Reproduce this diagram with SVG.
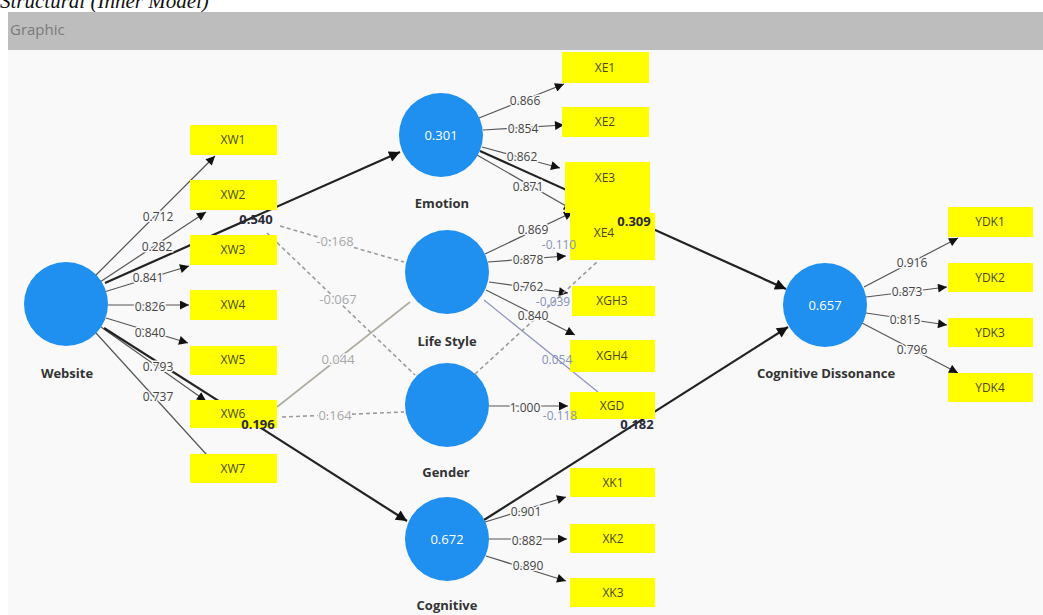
<svg xmlns="http://www.w3.org/2000/svg" width="1043" height="615" viewBox="0 0 1043 615">
<style>
.lv{fill:#1f8ff0}
.ind{fill:#ffff00}
.il{font-family:"Open Sans","Noto Sans",sans-serif;font-size:12px;fill:#4a4a2a;text-anchor:middle}
.nl{font-family:"Open Sans","Noto Sans",sans-serif;font-size:13px;font-weight:bold;fill:#333;text-anchor:middle}
.cv{font-family:"Open Sans","Noto Sans",sans-serif;font-size:13px;fill:#fff;text-anchor:middle}
.ld{stroke:#555;stroke-width:1.2;fill:none}
.st{stroke:#222;stroke-width:2.2;fill:none}
.ds{stroke:#9c9c9c;stroke-width:1.6;stroke-dasharray:4 3;fill:none}
.lt{stroke:#b0aca0;stroke-width:1.6;fill:none}
.bl{stroke:#8e94c0;stroke-width:1.2;fill:none}
.t{font-family:"Open Sans","Noto Sans",sans-serif;font-size:12px;fill:#444;text-anchor:middle;paint-order:stroke;stroke:#f9f9f9;stroke-width:3px}
.tb{font-family:"Open Sans","Noto Sans",sans-serif;font-size:13px;font-weight:bold;fill:#2a2a3a;text-anchor:middle}
.tg{font-family:"Open Sans","Noto Sans",sans-serif;font-size:13px;fill:#a8a8a8;text-anchor:middle;paint-order:stroke;stroke:#f9f9f9;stroke-width:3px}
.tq{font-family:"Open Sans","Noto Sans",sans-serif;font-size:12px;fill:#8791c0;text-anchor:middle}
</style>
<defs>
<marker id="a" viewBox="0 0 10 10" refX="10" refY="5" markerWidth="10" markerHeight="9" markerUnits="userSpaceOnUse" orient="auto"><path d="M0,0 L10,5 L0,10 z" fill="#111"/></marker>
<marker id="A" viewBox="0 0 10 10" refX="10" refY="5" markerWidth="13" markerHeight="11" markerUnits="userSpaceOnUse" orient="auto"><path d="M0,0 L10,5 L0,10 z" fill="#111"/></marker>
</defs>
<rect width="1043" height="615" fill="#ffffff"/>
<text x="0" y="8" font-family="Liberation Serif,serif" font-style="italic" font-size="21" fill="#111">Structural (Inner Model)</text>
<rect x="8" y="12" width="1035" height="38" fill="#bdbdbd"/>
<text x="10" y="35" font-family="Open Sans,Noto Sans,sans-serif" font-size="15" fill="#7a7a7a">Graphic</text>
<rect x="8" y="50" width="1035" height="565" fill="#f9f9f9"/>

<g id="connectors">
<line class="ld" x1="96" y1="275" x2="215" y2="156" marker-end="url(#a)"/>
<line class="ld" x1="100" y1="282" x2="206" y2="212" marker-end="url(#a)"/>
<line class="ld" x1="104" y1="292" x2="189" y2="266" marker-end="url(#a)"/>
<line class="ld" x1="108" y1="305" x2="189" y2="305" marker-end="url(#a)"/>
<line class="ld" x1="106" y1="318" x2="188" y2="343" marker-end="url(#a)"/>
<line class="ld" x1="101" y1="327" x2="206" y2="401" marker-end="url(#a)"/>
<line class="ld" x1="96" y1="333" x2="216" y2="465" marker-end="url(#a)"/>
<line class="ld" x1="479" y1="118" x2="564" y2="84" marker-end="url(#a)"/>
<line class="ld" x1="483" y1="130" x2="564" y2="125" marker-end="url(#a)"/>
<line class="ld" x1="482" y1="147" x2="560" y2="168" marker-end="url(#a)"/>
<line class="ld" x1="477" y1="155" x2="573" y2="210" marker-end="url(#a)"/>
<line class="ld" x1="485" y1="254" x2="573" y2="212" marker-end="url(#a)"/>
<line class="ld" x1="488" y1="262" x2="566" y2="256" marker-end="url(#a)"/>
<line class="ld" x1="489" y1="282" x2="568" y2="293" marker-end="url(#a)"/>
<line class="ld" x1="486" y1="290" x2="575" y2="335" marker-end="url(#a)"/>
<line class="bl" x1="484" y1="300" x2="598" y2="392"/>
<line class="ld" x1="489" y1="406" x2="568" y2="406" marker-end="url(#a)"/>
<line class="ld" x1="485" y1="522" x2="566" y2="497" marker-end="url(#a)"/>
<line class="ld" x1="489" y1="539" x2="567" y2="539" marker-end="url(#a)"/>
<line class="ld" x1="486" y1="556" x2="566" y2="581" marker-end="url(#a)"/>
<line class="ld" x1="864" y1="287" x2="958" y2="238" marker-end="url(#a)"/>
<line class="ld" x1="866" y1="297" x2="947" y2="287" marker-end="url(#a)"/>
<line class="ld" x1="866" y1="313" x2="947" y2="325" marker-end="url(#a)"/>
<line class="ld" x1="862" y1="323" x2="958" y2="373" marker-end="url(#a)"/>
<line class="ds" x1="280" y1="226" x2="404" y2="262"/>
<line class="ds" x1="267" y1="233" x2="415" y2="375"/>
<line class="lt" x1="277" y1="407" x2="410" y2="302"/>
<line class="ds" x1="282" y1="417" x2="404" y2="412"/>
<line class="ds" x1="475" y1="374" x2="597" y2="262"/>
<line class="st" x1="105" y1="283" x2="400" y2="152" marker-end="url(#A)"/>
<line class="st" x1="104" y1="328" x2="407" y2="521" marker-end="url(#A)"/>
<line class="st" x1="480" y1="151" x2="786" y2="289" marker-end="url(#A)"/>
<line class="st" x1="484" y1="520" x2="788" y2="327" marker-end="url(#A)"/>
</g>

<g id="website"><circle class="lv" cx="66" cy="304" r="42"/><text class="nl" x="67" y="378">Website</text></g>
<g id="emotion"><circle class="lv" cx="441" cy="135" r="42"/><text class="cv" x="441" y="140">0.301</text><text class="nl" x="442" y="208">Emotion</text></g>
<g id="lifestyle"><circle class="lv" cx="447" cy="272" r="42"/><text class="nl" x="447" y="346">Life Style</text></g>
<g id="gender"><circle class="lv" cx="447" cy="405" r="42"/><text class="nl" x="446" y="477">Gender</text></g>
<g id="cognitive"><circle class="lv" cx="447" cy="539" r="42"/><text class="cv" x="447" y="544">0.672</text><text class="nl" x="447" y="610">Cognitive</text></g>
<g id="cogdis"><circle class="lv" cx="825" cy="305" r="42"/><text class="cv" x="825" y="310">0.657</text><text class="nl" x="826" y="378">Cognitive Dissonance</text></g>

<g id="xw1"><rect class="ind" x="190" y="125" width="87" height="30"/><text class="il" x="233" y="144">XW1</text></g>
<g id="xw2"><rect class="ind" x="190" y="180" width="87" height="30"/><text class="il" x="233" y="199">XW2</text></g>
<g id="xw3"><rect class="ind" x="190" y="235" width="87" height="30"/><text class="il" x="233" y="254">XW3</text></g>
<g id="xw4"><rect class="ind" x="190" y="290" width="87" height="30"/><text class="il" x="233" y="309">XW4</text></g>
<g id="xw5"><rect class="ind" x="190" y="346" width="87" height="29"/><text class="il" x="233" y="364">XW5</text></g>
<g id="xw6"><rect class="ind" x="190" y="400" width="87" height="28"/><text class="il" x="233" y="418">XW6</text></g>
<g id="xw7"><rect class="ind" x="190" y="454" width="87" height="29"/><text class="il" x="233" y="473">XW7</text></g>
<g id="xe1"><rect class="ind" x="562" y="52" width="87" height="31"/><text class="il" x="605" y="72">XE1</text></g>
<g id="xe2"><rect class="ind" x="562" y="107" width="87" height="30"/><text class="il" x="605" y="126">XE2</text></g>
<g id="xe3"><rect class="ind" x="565" y="162" width="85" height="51"/><text class="il" x="605" y="182">XE3</text></g>
<g id="xe4"><rect class="ind" x="570" y="213" width="85" height="47"/><text class="il" x="604" y="237">XE4</text></g>
<g id="xgh3"><rect class="ind" x="572" y="286" width="83" height="30"/><text class="il" x="612" y="305">XGH3</text></g>
<g id="xgh4"><rect class="ind" x="570" y="340" width="85" height="32"/><text class="il" x="612" y="360">XGH4</text></g>
<g id="xgd"><rect class="ind" x="570" y="392" width="85" height="27"/><text class="il" x="612" y="410">XGD</text></g>
<g id="xk1"><rect class="ind" x="570" y="468" width="85" height="29"/><text class="il" x="613" y="487">XK1</text></g>
<g id="xk2"><rect class="ind" x="570" y="524" width="85" height="29"/><text class="il" x="613" y="543">XK2</text></g>
<g id="xk3"><rect class="ind" x="570" y="578" width="85" height="29"/><text class="il" x="613" y="597">XK3</text></g>
<g id="ydk1"><rect class="ind" x="948" y="207" width="85" height="30"/><text class="il" x="990" y="226">YDK1</text></g>
<g id="ydk2"><rect class="ind" x="948" y="263" width="85" height="29"/><text class="il" x="990" y="282">YDK2</text></g>
<g id="ydk3"><rect class="ind" x="948" y="318" width="85" height="29"/><text class="il" x="990" y="337">YDK3</text></g>
<g id="ydk4"><rect class="ind" x="948" y="373" width="85" height="29"/><text class="il" x="990" y="392">YDK4</text></g>

<g id="connector-labels">
<text class="t" x="158" y="221">0.712</text>
<text class="t" x="157" y="251">0.282</text>
<text class="t" x="148" y="282">0.841</text>
<text class="t" x="150" y="311">0.826</text>
<text class="t" x="150" y="337">0.840</text>
<text class="t" x="158" y="371">0.793</text>
<text class="t" x="158" y="401">0.737</text>
<text class="t" x="525" y="105">0.866</text>
<text class="t" x="523" y="133">0.854</text>
<text class="t" x="522" y="161">0.862</text>
<text class="t" x="528" y="191">0.871</text>
<text class="t" x="533" y="234">0.869</text>
<text class="t" x="528" y="264">0.878</text>
<text class="t" x="528" y="291">0.762</text>
<text class="t" x="533" y="320">0.840</text>
<text class="t" x="525" y="412">1.000</text>
<text class="t" x="526" y="516">0.901</text>
<text class="t" x="527" y="545">0.882</text>
<text class="t" x="528" y="570">0.890</text>
<text class="t" x="912" y="267">0.916</text>
<text class="t" x="907" y="296">0.873</text>
<text class="t" x="905" y="324">0.815</text>
<text class="t" x="912" y="354">0.796</text>
<text class="tg" x="335" y="246">-0.168</text>
<text class="tg" x="338" y="304">-0.067</text>
<text class="tg" x="338" y="364">0.044</text>
<text class="tg" x="335" y="420">0.164</text>
<text class="tq" x="559" y="249">-0.110</text>
<text class="tq" x="553" y="306">-0.039</text>
<text class="tq" x="557" y="364">0.054</text>
<text class="tq" x="560" y="420">-0.118</text>
<text class="tb" x="256" y="224">0.540</text>
<text class="tb" x="258" y="429">0.196</text>
<text class="tb" x="634" y="226">0.309</text>
<text class="tb" x="637" y="429">0.182</text>
</g>
</svg>
